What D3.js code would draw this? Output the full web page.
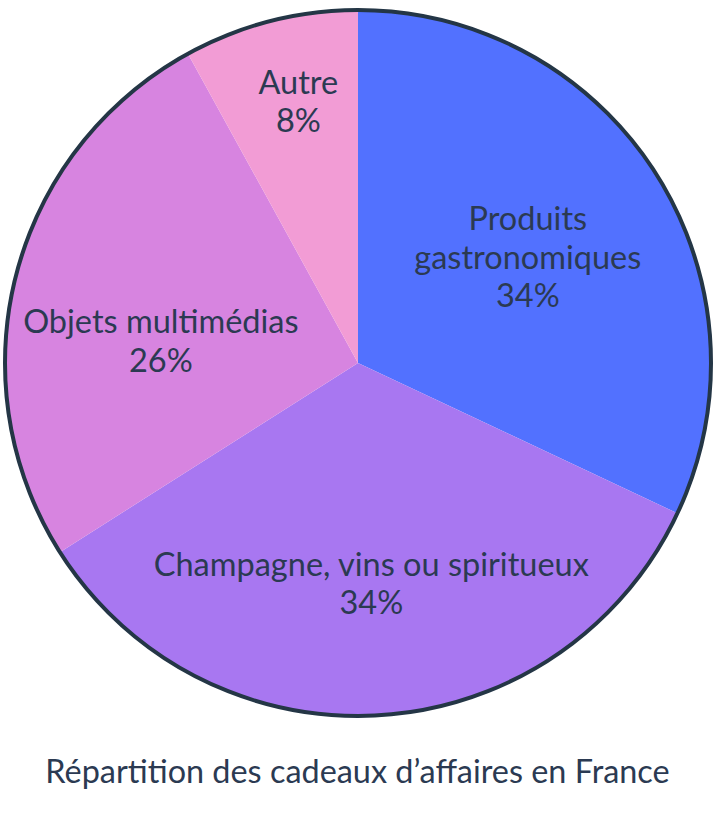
<!DOCTYPE html>
<html>
<head>
<meta charset="utf-8">
<script src="https://cdn.jsdelivr.net/npm/d3@7"></script>
<style>
  body { margin: 0; background: #fff; }
  text { font-family: Lato, "Noto Sans", sans-serif; fill: #2b3a52; }
</style>
</head>
<body>
<div id="chart"></div>
<script>
// Data
const categories = ["Produits gastronomiques", "Champagne, vins ou spiritueux", "Objets multimédias", "Autre"];
const labelLines = [["Produits", "gastronomiques"], ["Champagne, vins ou spiritueux"], ["Objets multimédias"], ["Autre"]];
const values = [32, 34, 26, 8];           // slice sizes as drawn
const pctLabels = ["34%", "34%", "26%", "8%"]; // percentages as printed
const colors = ["#5271ff", "#a877f1", "#d784e0", "#f29cd5"];
const title = "Répartition des cadeaux d’affaires en France";

const w = 723;
const h = 822;
const cx = 358, cy = 363, r = 353;

// little nudges so labels sit where the original put them
const labelNudge = [[-9, 8], [0, 9], [8, 31], [-7, -56]];

let svg = d3.select('#chart')
  .append('svg')
  .attr('width', w)
  .attr('height', h);

const pie = d3.pie().sort(null).value((d) => d.value);
const arcs = pie(categories.map((c, i) => ({name: c, value: values[i], i: i})));

const arc = d3.arc().innerRadius(0).outerRadius(r);
const labelArc = d3.arc().innerRadius(r * 0.6).outerRadius(r * 0.6);

let g = svg.append('g').attr('transform', `translate(${cx}, ${cy})`);

g.selectAll('path')
  .data(arcs)
  .enter()
  .append('path')
  .attr('d', arc)
  .attr('fill', (d) => colors[d.data.i]);

// outer ring
g.append('circle')
  .attr('r', r)
  .attr('fill', 'none')
  .attr('stroke', '#243646')
  .attr('stroke-width', 4);

const lineH = 38.5;
const fs = 32.5;

let labels = g.selectAll('.lbl')
  .data(arcs)
  .enter()
  .append('text')
  .attr('class', 'lbl')
  .attr('text-anchor', 'middle')
  .style('font-size', fs + 'px')
  .each(function(d) {
    const i = d.data.i;
    const c = labelArc.centroid(d);
    const x = c[0] + labelNudge[i][0];
    const y = c[1] + labelNudge[i][1];
    const lines = labelLines[i].concat([pctLabels[i]]);
    const top = y - (lines.length - 1) * lineH / 2 + fs * 0.35;
    lines.forEach((t, k) => {
      d3.select(this).append('tspan')
        .attr('x', x)
        .attr('y', top + k * lineH)
        .text(t);
    });
  });

svg.append('text')
  .attr('x', 357.5)
  .attr('y', 783)
  .attr('text-anchor', 'middle')
  .style('font-size', '32.4px')
  .text(title);
</script>
</body>
</html>
